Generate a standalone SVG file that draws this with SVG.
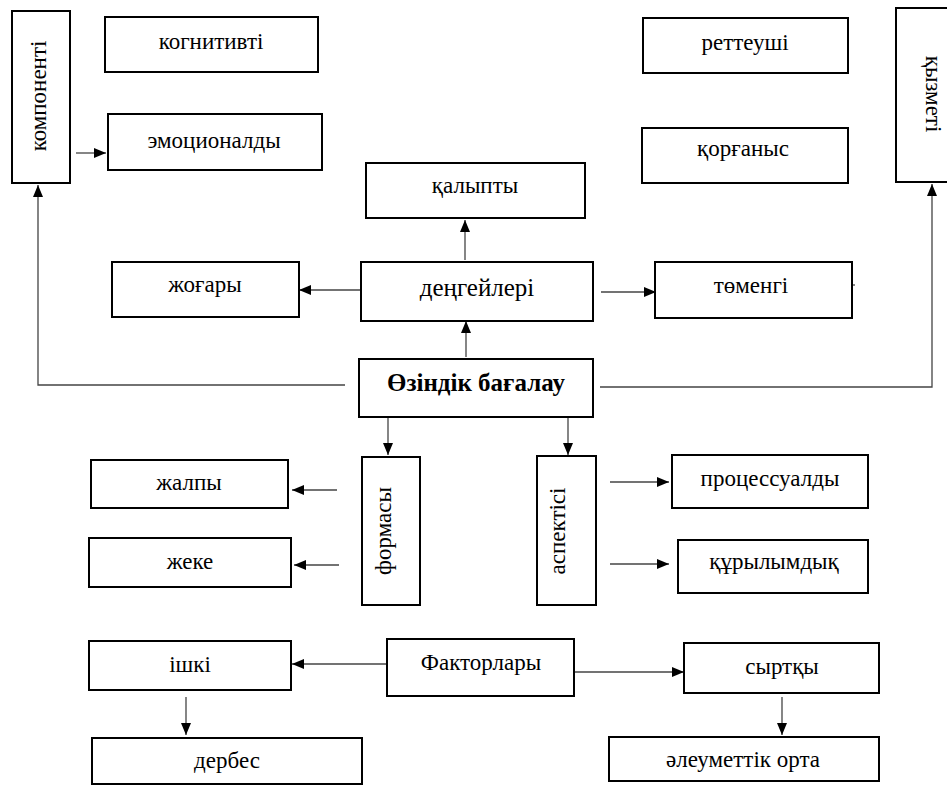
<svg xmlns="http://www.w3.org/2000/svg" width="947" height="785" viewBox="0 0 947 785">
<style>
  .box { fill: #fff; stroke: #000; stroke-width: 2; }
  .t { font-family: "Liberation Serif", "Times New Roman", serif; font-size: 23px; fill: #000; text-anchor: middle; }
  .big { font-size: 25px; }
  .bold { font-weight: bold; font-size: 25px; }
  .c { fill: none; stroke: #444; stroke-width: 1.3; }
</style>
<defs>
  <marker id="ah" viewBox="0 0 12 10" refX="12" refY="5" markerWidth="12" markerHeight="10" orient="auto" markerUnits="userSpaceOnUse">
    <path d="M0,0 L12,5 L0,10 z" fill="#000"/>
  </marker>
</defs>
<rect width="947" height="785" fill="#fff"/>

<g id="connectors">
  <polyline class="c" points="345,385 38,385 38,185" marker-end="url(#ah)"/>
  <polyline class="c" points="600,387 932,387 932,184" marker-end="url(#ah)"/>
  <line class="c" x1="76" y1="153" x2="106" y2="153" marker-end="url(#ah)"/>
  <line class="c" x1="466" y1="357" x2="466" y2="321" marker-end="url(#ah)"/>
  <line class="c" x1="465" y1="260" x2="465" y2="220" marker-end="url(#ah)"/>
  <line class="c" x1="360" y1="290" x2="299" y2="290" marker-end="url(#ah)"/>
  <line class="c" x1="601" y1="292" x2="656" y2="292" marker-end="url(#ah)"/>
  <line class="c" x1="852" y1="285" x2="855" y2="285"/>
  <line class="c" x1="388" y1="417" x2="388" y2="455" marker-end="url(#ah)"/>
  <line class="c" x1="568" y1="417" x2="568" y2="455" marker-end="url(#ah)"/>
  <line class="c" x1="337" y1="490" x2="292" y2="490" marker-end="url(#ah)"/>
  <line class="c" x1="339" y1="565" x2="294" y2="565" marker-end="url(#ah)"/>
  <line class="c" x1="610" y1="482" x2="669" y2="482" marker-end="url(#ah)"/>
  <line class="c" x1="610" y1="564" x2="669" y2="564" marker-end="url(#ah)"/>
  <line class="c" x1="387" y1="664" x2="292" y2="664" marker-end="url(#ah)"/>
  <line class="c" x1="574" y1="672" x2="684" y2="672" marker-end="url(#ah)"/>
  <line class="c" x1="186" y1="697" x2="186" y2="735" marker-end="url(#ah)"/>
  <line class="c" x1="782" y1="697" x2="782" y2="735" marker-end="url(#ah)"/>
</g>

<g id="komponenti"><rect class="box" x="12" y="11" width="58" height="172"/><text class="t" transform="translate(46,96) rotate(-90)">компоненті</text></g>
<g id="kognitivti"><rect class="box" x="105" y="17" width="213" height="55"/><text class="t" x="211" y="49">когнитивті</text></g>
<g id="emotsionaldy"><rect class="box" x="108" y="114" width="214" height="56"/><text class="t" x="214" y="148">эмоционалды</text></g>
<g id="retteushi"><rect class="box" x="643" y="18" width="205" height="55"/><text class="t" x="745" y="50">реттеуші</text></g>
<g id="korganys"><rect class="box" x="642" y="128" width="206" height="55"/><text class="t" x="743" y="156">қорғаныс</text></g>
<g id="kyzmeti"><rect class="box" x="896" y="8" width="70" height="174"/><text class="t" transform="translate(926,94) rotate(90)">қызметі</text></g>
<g id="kalypty"><rect class="box" x="366" y="163" width="219" height="55"/><text class="t" x="475" y="193">қалыпты</text></g>
<g id="zhogary"><rect class="box" x="112" y="262" width="187" height="55"/><text class="t" x="205" y="292">жоғары</text></g>
<g id="dengeileri"><rect class="box" x="361" y="262" width="232" height="59"/><text class="t big" x="477" y="296">деңгейлері</text></g>
<g id="tomengi"><rect class="box" x="655" y="262" width="197" height="56"/><text class="t" x="751" y="293">төменгі</text></g>
<g id="ozindik"><rect class="box" x="359" y="359" width="234" height="58"/><text class="t bold" x="476" y="391">Өзіндік бағалау</text></g>
<g id="formasy"><rect class="box" x="362" y="457" width="58" height="148"/><text class="t" transform="translate(391,531) rotate(-90)">формасы</text></g>
<g id="aspektisi"><rect class="box" x="537" y="456" width="59" height="149"/><text class="t" transform="translate(565,531) rotate(-90)">аспектісі</text></g>
<g id="zhalpy"><rect class="box" x="91" y="460" width="197" height="48"/><text class="t" x="189" y="490">жалпы</text></g>
<g id="zheke"><rect class="box" x="89" y="538" width="202" height="49"/><text class="t" x="190" y="569">жеке</text></g>
<g id="protsessualdy"><rect class="box" x="672" y="455" width="196" height="53"/><text class="t" x="770" y="486">процессуалды</text></g>
<g id="kurylymdyk"><rect class="box" x="678" y="540" width="190" height="53"/><text class="t" x="774" y="569">құрылымдық</text></g>
<g id="faktorlary"><rect class="box" x="387" y="639" width="187" height="57"/><text class="t" x="481" y="670">Факторлары</text></g>
<g id="ishki"><rect class="box" x="89" y="641" width="202" height="49"/><text class="t" x="190" y="672">ішкі</text></g>
<g id="syrtky"><rect class="box" x="684" y="643" width="195" height="50"/><text class="t" x="782" y="674">сыртқы</text></g>
<g id="derbes"><rect class="box" x="92" y="738" width="270" height="46"/><text class="t" x="227" y="768">дербес</text></g>
<g id="aleumettik"><rect class="box" x="609" y="737" width="270" height="44"/><text class="t" x="743" y="767">әлеуметтік орта</text></g>
</svg>
